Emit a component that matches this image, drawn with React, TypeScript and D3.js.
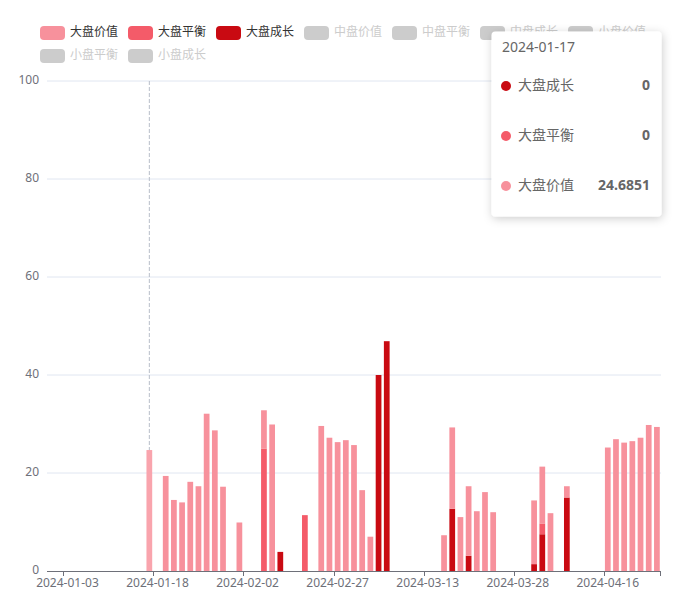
import React from "react";
import * as d3 from "d3";

const dates = [
  "2023-12-29", "2024-01-02", "2024-01-03", "2024-01-04", "2024-01-05", "2024-01-08", "2024-01-09", "2024-01-10", "2024-01-11", "2024-01-12",
  "2024-01-15", "2024-01-16", "2024-01-17", "2024-01-18", "2024-01-19", "2024-01-22", "2024-01-23", "2024-01-24", "2024-01-25", "2024-01-26",
  "2024-01-29", "2024-01-30", "2024-01-31", "2024-02-01", "2024-02-02", "2024-02-05", "2024-02-06", "2024-02-07", "2024-02-08", "2024-02-19",
  "2024-02-20", "2024-02-21", "2024-02-22", "2024-02-23", "2024-02-26", "2024-02-27", "2024-02-28", "2024-02-29", "2024-03-01", "2024-03-04",
  "2024-03-05", "2024-03-06", "2024-03-07", "2024-03-08", "2024-03-11", "2024-03-12", "2024-03-13", "2024-03-14", "2024-03-15", "2024-03-18",
  "2024-03-19", "2024-03-20", "2024-03-21", "2024-03-22", "2024-03-25", "2024-03-26", "2024-03-27", "2024-03-28", "2024-03-29", "2024-04-01",
  "2024-04-02", "2024-04-03", "2024-04-08", "2024-04-09", "2024-04-10", "2024-04-11", "2024-04-12", "2024-04-15", "2024-04-16", "2024-04-17",
  "2024-04-18", "2024-04-19", "2024-04-22", "2024-04-23", "2024-04-24",
];

// 大盘成长 (bottom of stack)
const largeGrowth = [
  0, 0, 0, 0, 0, 0, 0, 0, 0, 0,
  0, 0, 0, 0, 0, 0, 0, 0, 0, 0,
  0, 0, 0, 0, 0, 0, 0, 0, 3.9, 0,
  0, 0, 0, 0, 0, 0, 0, 0, 0, 0,
  40.0, 46.9, 0, 0, 0, 0, 0, 0, 0, 12.7,
  0, 3.1, 0, 0, 0, 0, 0, 0, 0, 1.4,
  7.5, 0, 0, 15.0, 0, 0, 0, 0, 0, 0,
  0, 0, 0, 0, 0,
];

// 大盘平衡 (middle)
const largeBalance = [
  0, 0, 0, 0, 0, 0, 0, 0, 0, 0,
  0, 0, 0, 0, 0, 0, 0, 0, 0, 0,
  0, 0, 0, 0, 0, 0, 25.0, 0, 0, 0,
  0, 11.4, 0, 0, 0, 0, 0, 0, 0, 0,
  0, 0, 0, 0, 0, 0, 0, 0, 0, 0,
  0, 0, 0, 0, 0, 0, 0, 0, 0, 0,
  2.2, 0, 0, 0, 0, 0, 0, 0, 0, 0,
  0, 0, 0, 0, 0,
];

// 大盘价值 (top)
const largeValue = [
  0, 0, 0, 0, 0, 0, 0, 0, 0, 0,
  0, 0, 24.6851, 0, 19.4, 14.5, 14.0, 18.2, 17.3, 32.1,
  28.7, 17.2, 0, 9.9, 0, 0, 7.8, 29.9, 0, 0,
  0, 0, 0, 29.6, 27.2, 26.3, 26.7, 25.7, 16.5, 7.0,
  0, 0, 0, 0, 0, 0, 0, 0, 7.3, 16.6,
  11.0, 14.2, 12.2, 16.1, 12.0, 0, 0, 0, 0, 13.0,
  11.6, 11.8, 0, 2.3, 0, 0, 0, 0, 25.2, 26.9,
  26.2, 26.5, 27.2, 29.8, 29.4,
];

const legendNames = ["大盘价值", "大盘平衡", "大盘成长", "中盘价值", "中盘平衡", "中盘成长", "小盘价值", "小盘平衡", "小盘成长"];
const legendActive = [true, true, true, false, false, false, false, false, false];
const yTicks = [0, 20, 40, 60, 80, 100];
const labelEvery = 11;
const labelStart = 2;
const hoverIndex = 12;

const colors = {
  value: "#f7919c",
  balance: "#f45b69",
  growth: "#c90a12",
  valueHover: "#f9a4ad",
};
const legendColors = [colors.value, colors.balance, colors.growth];

const FONT = "'Noto Sans', 'Noto Sans CJK SC', sans-serif";

export default function App() {
  const W = 700, H = 599;
  const left = 47, right = 661, top = 81, bottom = 571;

  const x = d3.scaleBand<string>().domain(dates).range([left, right]).padding(0);
  const y = d3.scaleLinear().domain([0, 100]).range([bottom, top]);
  const step = x.step();
  const bw = step * 0.7;

  const series = [
    { key: "growth", data: largeGrowth, color: colors.growth },
    { key: "balance", data: largeBalance, color: colors.balance },
    { key: "value", data: largeValue, color: colors.value },
  ];

  const rows = dates.map((d, i) => ({ date: d, growth: largeGrowth[i], balance: largeBalance[i], value: largeValue[i] }));
  const stacked = d3.stack<any>().keys(["growth", "balance", "value"])(rows);

  const tickIdx: number[] = [];
  for (let i = labelStart; i < dates.length; i += labelEvery) tickIdx.push(i);

  const hx = (x(dates[hoverIndex]) as number) + step / 2;

  const tipRows = [
    { name: "大盘成长", color: colors.growth, v: largeGrowth[hoverIndex] },
    { name: "大盘平衡", color: colors.balance, v: largeBalance[hoverIndex] },
    { name: "大盘价值", color: colors.value, v: largeValue[hoverIndex] },
  ];

  return (
    <svg width={W} height={H} style={{ position: "absolute", left: 0, top: 0, background: "#fff" }} fontFamily={FONT}>
      <defs>
        <filter id="shadow" x="-20%" y="-20%" width="140%" height="140%">
          <feDropShadow dx="1" dy="2" stdDeviation="5" floodColor="#000" floodOpacity="0.2" />
        </filter>
      </defs>
      {/* grid lines */}
      {yTicks.filter((t) => t !== 0).map((t) => (
        <line key={t} x1={left} x2={right} y1={y(t)} y2={y(t)} stroke="#e0e6f1" strokeWidth={1} />
      ))}
      {/* y labels */}
      {yTicks.map((t) => (
        <text key={t} x={left - 8} y={y(t)} textAnchor="end" dominantBaseline="middle" fontSize={12} fill="#6e7079">
          {t}
        </text>
      ))}
      {/* axis pointer */}
      <line x1={hx} x2={hx} y1={top} y2={bottom} stroke="#b9bec9" strokeWidth={1} strokeDasharray="4,2" />
      {/* bars */}
      {stacked.map((layer, li) => (
        <g key={layer.key}>
          {layer.map((seg, i) => {
            const v = seg[1] - seg[0];
            if (!(v > 0)) return null;
            const x0 = (x(dates[i]) as number) + (step - bw) / 2;
            let fill = series[li].color;
            if (i === hoverIndex && layer.key === "value") fill = colors.valueHover;
            return <rect key={i} x={x0} y={y(seg[1])} width={bw} height={y(seg[0]) - y(seg[1])} fill={fill} />;
          })}
        </g>
      ))}
      {/* x axis */}
      <line x1={left} x2={right} y1={bottom + 0.5} y2={bottom + 0.5} stroke="#6e7079" strokeWidth={1} />
      {tickIdx.map((i) => {
        const tx = Math.round(x(dates[i]) as number) + 0.5;
        return <line key={"t" + i} x1={tx} x2={tx} y1={bottom} y2={bottom + 5} stroke="#6e7079" />;
      })}
      <line x1={right - 0.5} x2={right - 0.5} y1={bottom} y2={bottom + 5} stroke="#6e7079" />
      {tickIdx.map((i) => (
        <text key={"l" + i} x={(x(dates[i]) as number) + step / 2} y={bottom + 13} textAnchor="middle" dominantBaseline="middle" fontSize={12} fill="#6e7079">
          {dates[i]}
        </text>
      ))}
      {/* legend */}
      {legendNames.map((name, i) => {
        const row = i < 7 ? 0 : 1;
        const col = i < 7 ? i : i - 7;
        const lx = 40 + col * 88;
        const ly = row === 0 ? 33 : 56;
        const active = legendActive[i];
        return (
          <g key={name}>
            <rect x={lx} y={ly - 7} width={25} height={14} rx={4} fill={active ? legendColors[i] : "#ccc"} />
            <text x={lx + 30} y={ly} dominantBaseline="middle" fontSize={12} fill={active ? "#333" : "#ccc"}>
              {name}
            </text>
          </g>
        );
      })}
      {/* tooltip */}
      <g>
        <rect x={491.5} y={31.5} width={170} height={185} rx={4} fill="#fff" filter="url(#shadow)" />
        <text x={502} y={48} dominantBaseline="middle" fontSize={14} fill="#666">
          {dates[hoverIndex]}
        </text>
        {tipRows.map((r, k) => {
          const ry = 86 + k * 50;
          return (
            <g key={r.name}>
              <circle cx={506} cy={ry} r={5} fill={r.color} />
              <text x={518} y={ry} dominantBaseline="middle" fontSize={14} fill="#666">
                {r.name}
              </text>
              <text x={650} y={ry} textAnchor="end" dominantBaseline="middle" fontSize={14} fontWeight="bold" fill="#666">
                {r.v}
              </text>
            </g>
          );
        })}
      </g>
    </svg>
  );
}
